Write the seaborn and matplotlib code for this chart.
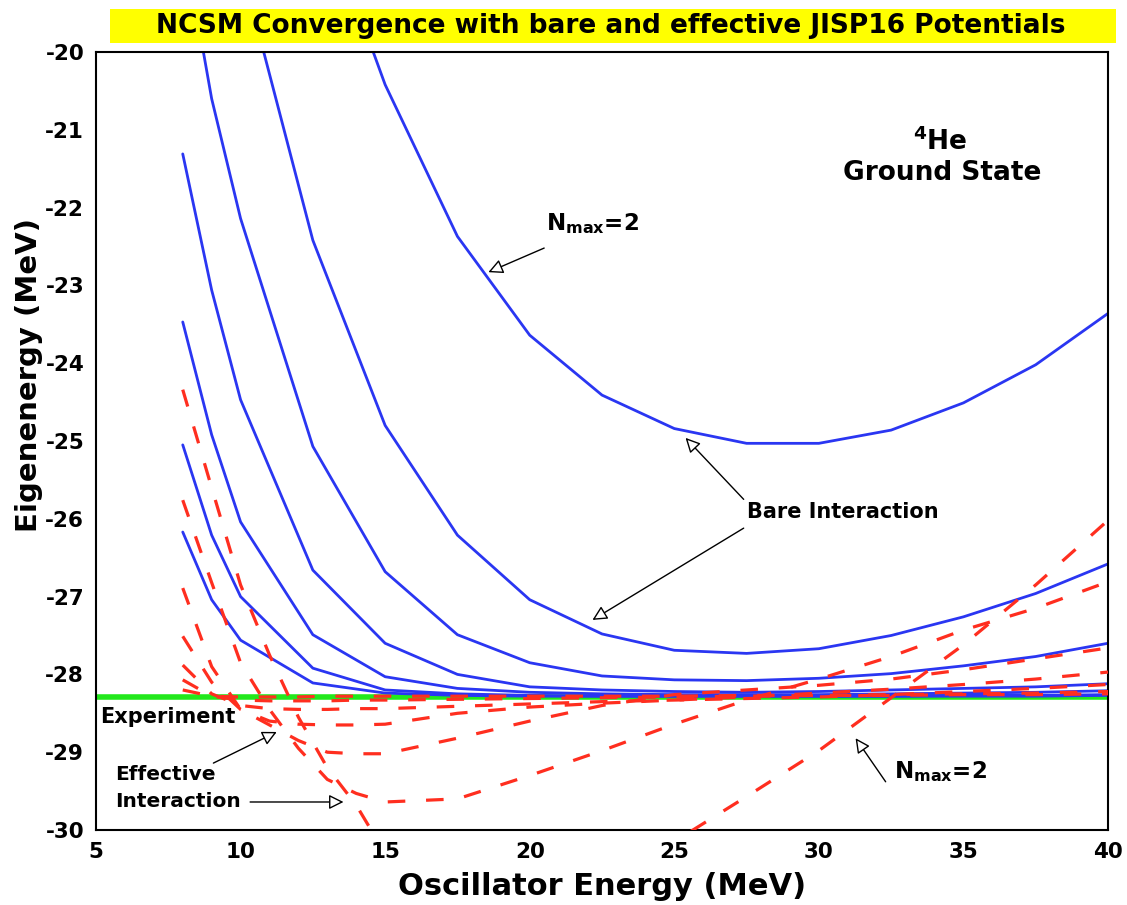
import numpy as np
import pandas as pd
import matplotlib
matplotlib.use("Agg")
import matplotlib.pyplot as plt
from matplotlib.patches import Rectangle
import seaborn as sns

nan = np.nan

# ---------------- data ----------------
hw_bare = [8, 9, 10, 12.5, 15, 17.5, 20, 22.5, 25, 27.5, 30, 32.5, 35, 37.5, 40]
bare_n2 = [nan, nan, nan, -17.87, -20.42, -22.37, -23.64, -24.41, -24.84, -25.03, -25.03, -24.86, -24.51, -24.02, -23.36]
bare_n4 = [nan, nan, -18.86, -22.42, -24.80, -26.21, -27.04, -27.48, -27.69, -27.73, -27.67, -27.50, -27.26, -26.96, -26.58]
bare_n6 = [-18.5, -20.6, -22.14, -25.07, -26.68, -27.49, -27.85, -28.02, -28.07, -28.08, -28.05, -27.99, -27.89, -27.77, -27.60]
bare_n8 = [-21.31, -23.06, -24.47, -26.66, -27.60, -28.00, -28.16, -28.20, -28.22, -28.23, -28.22, -28.20, -28.18, -28.16, -28.12]
bare_n10 = [-23.47, -24.92, -26.04, -27.49, -28.03, -28.18, -28.23, -28.25, -28.26, -28.26, -28.26, -28.25, -28.24, -28.23, -28.21]
bare_n12 = [-25.05, -26.21, -27.00, -27.92, -28.20, -28.25, -28.27, -28.28, -28.28, -28.28, -28.28, -28.28, -28.27, -28.27, -28.26]
bare_n14 = [-26.17, -27.04, -27.56, -28.11, -28.24, -28.27, -28.28, -28.28, -28.28, -28.28, -28.28, -28.28, -28.28, -28.28, -28.27]

hw_eff = [8, 9, 10, 11, 12, 13, 14, 15, 17.5, 20, 22.5, 25, 27.5, 30, 32.5, 35, 37.5, 40]
eff_n2 = [-24.34, -25.60, -26.85, -27.75, -28.55, -29.20, -29.68, -30.30, -31.00, -31.30, -31.00, -30.15, -29.57, -28.98, -28.30, -27.62, -26.85, -26.02]
eff_n4 = [-25.76, -26.82, -27.85, -28.45, -28.95, -29.35, -29.53, -29.64, -29.60, -29.30, -28.98, -28.64, -28.33, -28.06, -27.77, -27.43, -27.15, -26.81]
eff_n6 = [-26.89, -27.90, -28.45, -28.65, -28.85, -29.00, -29.02, -29.02, -28.82, -28.60, -28.40, -28.26, -28.20, -28.14, -28.06, -27.94, -27.80, -27.66]
eff_n8 = [-27.51, -28.10, -28.45, -28.60, -28.64, -28.65, -28.65, -28.64, -28.50, -28.42, -28.37, -28.33, -28.29, -28.24, -28.19, -28.13, -28.06, -27.97]
eff_n10 = [-27.88, -28.25, -28.40, -28.44, -28.45, -28.45, -28.44, -28.44, -28.41, -28.38, -28.35, -28.33, -28.31, -28.29, -28.26, -28.22, -28.18, -28.13]
eff_n12 = [-28.07, -28.28, -28.33, -28.34, -28.34, -28.34, -28.33, -28.33, -28.32, -28.31, -28.30, -28.29, -28.28, -28.27, -28.26, -28.25, -28.24, -28.22]
eff_n14 = [-28.20, -28.28, -28.29, -28.29, -28.29, -28.28, -28.28, -28.28, -28.28, -28.28, -28.28, -28.28, -28.27, -28.27, -28.27, -28.26, -28.26, -28.25]

exp_hw = [5, 40]
experiment = -28.296

title = "NCSM Convergence with bare and effective JISP16 Potentials"
xlabel = "Oscillator Energy (MeV)"
ylabel = "Eigenenergy (MeV)"
xticks = [5, 10, 15, 20, 25, 30, 35, 40]
yticks = [-30, -29, -28, -27, -26, -25, -24, -23, -22, -21, -20]

# ---------------- style ----------------
sns.set_style("white")
plt.rcParams['font.family'] = ['DejaVu Sans']
plt.rcParams['font.weight'] = 'bold'
plt.rcParams['mathtext.fontset'] = 'dejavusans'
plt.rcParams['mathtext.default'] = 'bf'
plt.rcParams['axes.unicode_minus'] = False
for k in ['text.color', 'axes.labelcolor', 'xtick.color', 'ytick.color', 'axes.edgecolor']:
    plt.rcParams[k] = 'black'

BLUE = '#2a36f2'
RED = '#ff2e1f'
GREEN = '#22e81c'

fig = plt.figure(figsize=(11.27, 9.05), dpi=100)
ax = fig.add_axes([96 / 1127, 1 - 830 / 905, (1108 - 96) / 1127, (830 - 52) / 905])

# experiment line
sns.lineplot(x=exp_hw, y=[experiment, experiment], ax=ax, color=GREEN, lw=4.0, zorder=1)

bare = [bare_n2, bare_n4, bare_n6, bare_n8, bare_n10, bare_n12, bare_n14]
for ys in bare:
    df = pd.DataFrame({'hw': hw_bare, 'E': ys}).dropna()
    sns.lineplot(data=df, x='hw', y='E', ax=ax, color=BLUE, lw=2.0, sort=False, zorder=2)

eff = [eff_n2, eff_n4, eff_n6, eff_n8, eff_n10, eff_n12, eff_n14]
for ys in eff:
    df = pd.DataFrame({'hw': hw_eff, 'E': ys})
    sns.lineplot(data=df, x='hw', y='E', ax=ax, color=RED, lw=2.3, sort=False,
                 linestyle=(0, (5.5, 6.5)), zorder=3)

ax.set_xlim(5, 40)
ax.set_ylim(-30, -20)
ax.set_xticks(xticks)
ax.set_yticks(yticks)
ax.set_xticks(np.arange(5, 40.01, 1), minor=True)
ax.set_yticks(np.arange(-30, -19.99, 0.2), minor=True)
ax.tick_params(axis='both', which='major', direction='out', length=6, width=1.2,
               labelsize=15.5, colors='black', pad=2.5)
ax.tick_params(axis='both', which='minor', direction='out', length=3.5, width=1.0)
for lab in ax.get_xticklabels() + ax.get_yticklabels():
    lab.set_fontweight('bold')
for s in ax.spines.values():
    s.set_visible(True)
    s.set_color('black')
    s.set_linewidth(1.5)

ax.set_xlabel(xlabel, fontsize=22, fontweight='bold', labelpad=7)
ax.set_ylabel(ylabel, fontsize=21, fontweight='bold')
ax.yaxis.set_label_coords(-0.052, 0.585)

# title with yellow box
fig.patches.append(Rectangle((110 / 1127, 1 - 43 / 905), (1116 - 110) / 1127, 34 / 905,
                             transform=fig.transFigure, facecolor='#ffff00',
                             edgecolor='none', zorder=0))
fig.text(611 / 1127, 1 - 26 / 905, title, ha='center', va='center',
         fontsize=19, fontweight='bold', color='black')

# annotations
arrow = dict(arrowstyle='-|>', fc='white', ec='black', lw=1.0, mutation_scale=22,
             shrinkA=0, shrinkB=0)
ax.text(34.2, -21.16, r'$^{4}$He', ha='center', va='center', fontsize=19, fontweight='bold')
ax.text(34.25, -21.56, 'Ground State', ha='center', va='center', fontsize=19, fontweight='bold')

ax.text(20.55, -22.2, r'N$_{max}$=2', ha='left', va='center', fontsize=16.5, fontweight='bold')
ax.annotate('', xy=(18.57, -22.83), xytext=(20.5, -22.52), arrowprops=arrow)

ax.text(27.5, -25.91, 'Bare Interaction', ha='left', va='center', fontsize=15, fontweight='bold')
ax.annotate('', xy=(25.39, -24.96), xytext=(27.4, -25.75), arrowprops=arrow)
ax.annotate('', xy=(22.17, -27.3), xytext=(27.4, -26.12), arrowprops=arrow)

ax.text(32.6, -29.25, r'N$_{max}$=2', ha='left', va='center', fontsize=16.5, fontweight='bold')
ax.annotate('', xy=(31.27, -28.82), xytext=(32.31, -29.38), arrowprops=arrow)

ax.text(5.15, -28.55, 'Experiment', ha='left', va='center', fontsize=15, fontweight='bold')
ax.text(5.65, -29.29, 'Effective', ha='left', va='center', fontsize=14.5, fontweight='bold')
ax.text(5.65, -29.64, 'Interaction', ha='left', va='center', fontsize=14.5, fontweight='bold')
ax.annotate('', xy=(11.25, -28.74), xytext=(9.06, -29.14), arrowprops=arrow)
ax.annotate('', xy=(13.56, -29.64), xytext=(10.33, -29.64), arrowprops=arrow)

fig.savefig('out.png', dpi=100)
